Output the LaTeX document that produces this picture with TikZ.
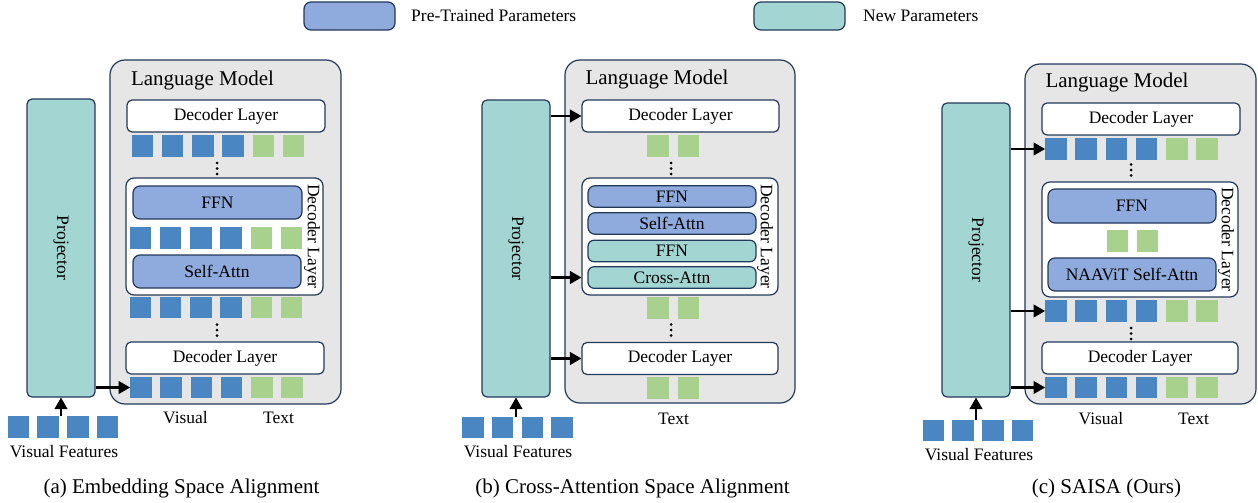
\documentclass[tikz,border=0pt]{standalone}
\usepackage{fontspec}
\setmainfont{Liberation Serif}
\usepackage{tikz}
\usetikzlibrary{arrows}
\definecolor{edge}{HTML}{22395A}
\definecolor{pretrained}{HTML}{8FAADC}
\definecolor{newparam}{HTML}{A3D5D3}
\definecolor{lmgray}{HTML}{E7E6E6}
\definecolor{vistok}{HTML}{4A86C1}
\definecolor{txttok}{HTML}{A9D18E}
\tikzstyle{feed} = [-triangle 60, line width=2.2pt]
\tikzstyle{lmbox} = [draw=edge, line width=1.2pt, fill=lmgray, rounded corners=15pt, inner sep=0pt]
\tikzstyle{declayer} = [draw=edge, line width=1.2pt, fill=white, rounded corners=5pt, inner sep=0pt, font=\fontsize{17.5}{20}\selectfont]
\tikzstyle{prebox} = [draw=edge, line width=1.2pt, fill=pretrained, rounded corners=7pt, inner sep=0pt, font=\fontsize{17.5}{20}\selectfont]
\tikzstyle{newbox} = [draw=edge, line width=1.2pt, fill=newparam, rounded corners=6pt, inner sep=0pt, font=\fontsize{17.5}{20}\selectfont]
\tikzstyle{vtok} = [fill=vistok, minimum size=21.5pt, inner sep=0pt]
\tikzstyle{ttok} = [fill=txttok, minimum size=21.5pt, inner sep=0pt]
\tikzstyle{lbl} = [inner sep=0pt, font=\fontsize{17.5}{20}\selectfont]
\tikzstyle{head} = [inner sep=0pt, font=\fontsize{21}{24}\selectfont]

\begin{document}
\begin{tikzpicture}[yscale=-1]
			\useasboundingbox (0pt,0pt) rectangle (1258pt,503pt);
			% legend
			\node[prebox, minimum width=91pt, minimum height=28pt] (legPre) at (349.5pt,16pt) {};
			\node[lbl, anchor=west] (legPreTxt) at (411pt,16pt) {Pre-Trained Parameters};
			\node[newbox, rounded corners=7pt, minimum width=91pt, minimum height=28pt] (legNew) at (799.5pt,16pt) {};
			\node[lbl, anchor=west] (legNewTxt) at (863pt,16pt) {New Parameters};
			% (a)
			\node[lmbox, minimum width=231pt, minimum height=344pt] (aLM) at (225.5pt,232pt) {};
			\node[head] (aLMTxt) at (202.5pt,80pt) {Language Model};
			\node[newbox, rounded corners=5pt, minimum width=68pt, minimum height=298pt] (aProj) at (61pt,248pt) {};
			\node[lbl, rotate=-90] (aProjTxt) at (61pt,248pt) {Projector};
			\node[declayer, minimum width=198pt, minimum height=32pt] (aDecTop) at (226pt,116pt) {Decoder Layer};
			\node[declayer, rounded corners=8pt, minimum width=197pt, minimum height=117pt] (aInner) at (224.5pt,236.5pt) {};
			\node[prebox, minimum width=169pt, minimum height=33pt] (aFFN) at (217.5pt,202.5pt) {FFN};
			\node[prebox, minimum width=168pt, minimum height=33pt] (aAttn) at (217pt,271.5pt) {Self-Attn};
			\node[lbl, rotate=-90] (aInnerTxt) at (312pt,236.5pt) {Decoder Layer};
			\node[declayer, minimum width=198pt, minimum height=32pt] (aDecBot) at (225pt,358pt) {Decoder Layer};
			\foreach \i in {0,...,3} {
				\node[vtok] (aRowA-\i) at ({142.5pt+30.2pt*\i},146pt) {};
				\node[vtok] (aRowB-\i) at ({140.5pt+30.2pt*\i},238pt) {};
				\node[vtok] (aRowC-\i) at ({140.5pt+30.2pt*\i},307.5pt) {};
				\node[vtok] (aRowD-\i) at ({141pt+30.2pt*\i},387.5pt) {};
				\node[vtok] (aFeat-\i) at ({18.5pt+29.7pt*\i},427pt) {};
			}
			\foreach \i in {4,5} {
				\node[ttok] (aRowA-\i) at ({142.5pt+30.2pt*\i},146pt) {};
				\node[ttok] (aRowB-\i) at ({140.5pt+30.2pt*\i},238pt) {};
				\node[ttok] (aRowC-\i) at ({140.5pt+30.2pt*\i},307.5pt) {};
				\node[ttok] (aRowD-\i) at ({141pt+30.2pt*\i},387.5pt) {};
			}
			\coordinate (aDotsA) at (217pt,168.5pt);
			\coordinate (aDotsB) at (217pt,330pt);
			\node[lbl] (aVisTxt) at (185.5pt,418pt) {Visual};
			\node[lbl] (aTxtTxt) at (278.5pt,418pt) {Text};
			\node[lbl] (aFeatTxt) at (64pt,452pt) {Visual Features};
			\node[head] (aCap) at (181.5pt,488pt) {(a) Embedding Space Alignment};
			\draw[feed] (aProj.east |- aRowD-0) -- (aRowD-0.west);
			\draw[feed] (aProj.south |- aFeat-1.north) -- (aProj.south);
			% (b)
			\node[lmbox, minimum width=230pt, minimum height=343pt] (bLM) at (680pt,231.5pt) {};
			\node[head] (bLMTxt) at (657pt,79pt) {Language Model};
			\node[newbox, rounded corners=5pt, minimum width=68pt, minimum height=297pt] (bProj) at (516pt,248.5pt) {};
			\node[lbl, rotate=-90] (bProjTxt) at (516pt,248.5pt) {Projector};
			\node[declayer, minimum width=197pt, minimum height=32pt] (bDecTop) at (680.5pt,116pt) {Decoder Layer};
			\node[declayer, rounded corners=8pt, minimum width=196pt, minimum height=117pt] (bInner) at (680pt,236.5pt) {};
			\node[prebox, minimum width=168pt, minimum height=21.5pt] (bFFN) at (672pt,196.5pt) {FFN};
			\node[prebox, minimum width=168pt, minimum height=21.5pt] (bAttn) at (672pt,223.5pt) {Self-Attn};
			\node[newbox, minimum width=168pt, minimum height=21.5pt] (bNewFFN) at (672pt,251pt) {FFN};
			\node[newbox, minimum width=168pt, minimum height=21.5pt] (bXAttn) at (672pt,277.5pt) {Cross-Attn};
			\node[lbl, rotate=-90] (bInnerTxt) at (765pt,236.5pt) {Decoder Layer};
			\node[declayer, minimum width=196pt, minimum height=32pt] (bDecBot) at (680pt,358.5pt) {Decoder Layer};
			\foreach \i in {0,1} {
				\node[ttok] (bRowA-\i) at ({658pt+30.5pt*\i},146pt) {};
				\node[ttok] (bRowC-\i) at ({658pt+30.5pt*\i},308pt) {};
				\node[ttok] (bRowD-\i) at ({658pt+30.5pt*\i},388pt) {};
			}
			\foreach \i in {0,...,3}
				\node[vtok] (bFeat-\i) at ({473pt+29.7pt*\i},427.5pt) {};
			\coordinate (bDotsA) at (671pt,168.5pt);
			\coordinate (bDotsB) at (671pt,330pt);
			\node[lbl] (bTxtTxt) at (673.5pt,419pt) {Text};
			\node[lbl] (bFeatTxt) at (518pt,452pt) {Visual Features};
			\node[head] (bCap) at (632.5pt,488pt) {(b) Cross-Attention Space Alignment};
			\draw[feed] (bProj.east |- bDecTop) -- (bDecTop.west);
			\draw[feed] (bProj.east |- bXAttn) -- (bInner.west |- bXAttn);
			\draw[feed] (bProj.east |- bDecBot) -- (bDecBot.west);
			\draw[feed] (bProj.south |- bFeat-1.north) -- (bProj.south);
			% (c)
			\node[lmbox, minimum width=231pt, minimum height=340pt] (cLM) at (1140.5pt,234pt) {};
			\node[head] (cLMTxt) at (1117pt,82pt) {Language Model};
			\node[newbox, rounded corners=5pt, minimum width=68pt, minimum height=294pt] (cProj) at (976pt,250pt) {};
			\node[lbl, rotate=-90] (cProjTxt) at (976pt,250pt) {Projector};
			\node[declayer, minimum width=198pt, minimum height=32pt] (cDecTop) at (1141pt,119pt) {Decoder Layer};
			\node[declayer, rounded corners=8pt, minimum width=196pt, minimum height=115pt] (cInner) at (1140pt,239.5pt) {};
			\node[prebox, minimum width=168pt, minimum height=34pt] (cFFN) at (1132pt,206pt) {FFN};
			\node[prebox, minimum width=168pt, minimum height=33pt] (cAttn) at (1132pt,274.5pt) {NAAViT Self-Attn};
			\node[lbl, rotate=-90] (cInnerTxt) at (1226pt,239.5pt) {Decoder Layer};
			\node[declayer, minimum width=196pt, minimum height=32pt] (cDecBot) at (1140pt,358pt) {Decoder Layer};
			\foreach \i in {0,...,3} {
				\node[vtok] (cRowA-\i) at ({1056pt+30.2pt*\i},149pt) {};
				\node[vtok] (cRowC-\i) at ({1056pt+30.2pt*\i},311pt) {};
				\node[vtok] (cRowD-\i) at ({1056pt+30.2pt*\i},387.5pt) {};
				\node[vtok] (cFeat-\i) at ({933.5pt+29.7pt*\i},430.5pt) {};
			}
			\foreach \i in {4,5} {
				\node[ttok] (cRowA-\i) at ({1056pt+30.2pt*\i},149pt) {};
				\node[ttok] (cRowC-\i) at ({1056pt+30.2pt*\i},311pt) {};
				\node[ttok] (cRowD-\i) at ({1056pt+30.2pt*\i},387.5pt) {};
			}
			\foreach \i in {0,1}
				\node[ttok] (cRowB-\i) at ({1117.5pt+30pt*\i},241pt) {};
			\coordinate (cDotsA) at (1131pt,170pt);
			\coordinate (cDotsB) at (1131pt,333.5pt);
			\node[lbl] (cVisTxt) at (1101pt,419pt) {Visual};
			\node[lbl] (cTxtTxt) at (1193.5pt,419pt) {Text};
			\node[lbl] (cFeatTxt) at (979pt,455pt) {Visual Features};
			\node[head] (cCap) at (1106.5pt,488pt) {(c) SAISA (Ours)};
			\draw[feed] (cProj.east |- cRowA-0) -- (cRowA-0.west);
			\draw[feed] (cProj.east |- cRowC-0) -- (cRowC-0.west);
			\draw[feed] (cProj.east |- cRowD-0) -- (cRowD-0.west);
			\draw[feed] (cProj.south |- cFeat-1.north) -- (cProj.south);
			% vertical dots
			\foreach \p in {aDotsA,aDotsB,bDotsA,bDotsB,cDotsA,cDotsB}
				\foreach \d in {-5.5,0,5.5}
					\fill (\p) ++(0pt,\d pt) circle (1.5pt);
\end{tikzpicture}
\end{document}
